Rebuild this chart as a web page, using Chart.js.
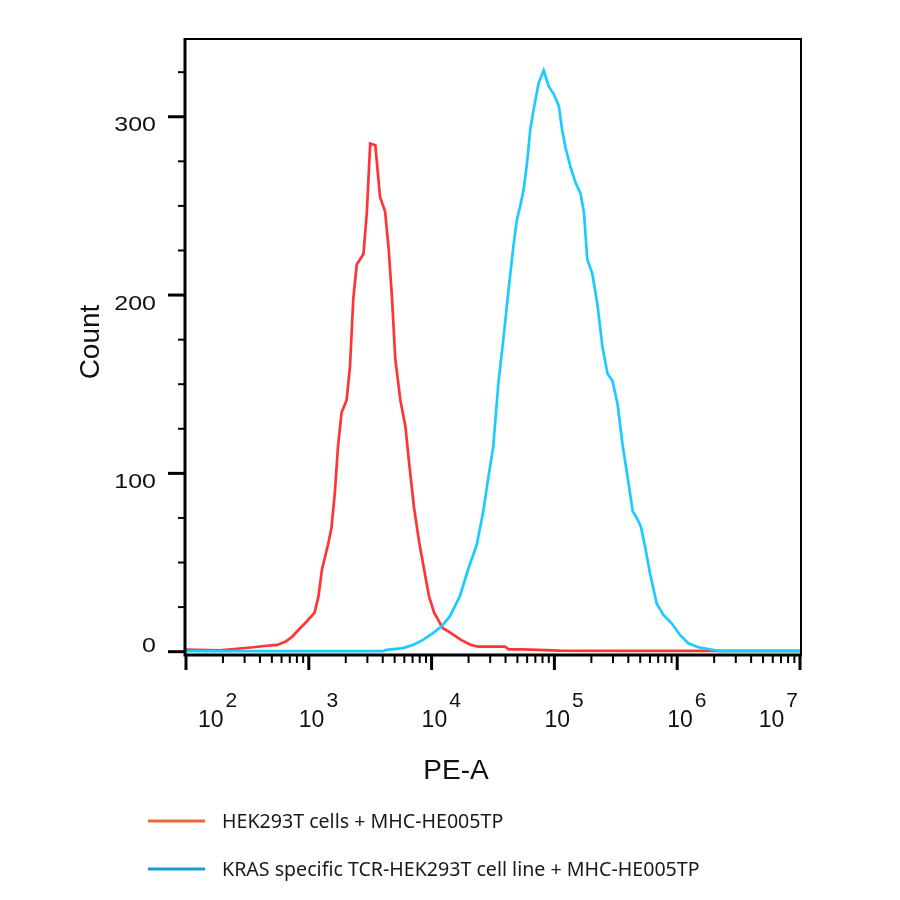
<!DOCTYPE html>
<html>
<head>
<meta charset="utf-8">
<script src="https://cdn.jsdelivr.net/npm/chart.js@4"></script>
<style>
  body { margin: 0; background: #fff; }
</style>
</head>
<body>
<canvas id="histChart" width="900" height="900"></canvas>
<script>
// PE-A channel values and counts for each histogram
const hekPE = [100, 189, 355, 430, 554, 648, 736, 837, 948, 1112, 1199, 1279, 1433, 1527, 1625, 1729, 1847, 2031, 2166, 2303, 2455, 2785, 2967, 3162, 3482, 3802, 4178, 4470, 4764, 5062, 5569, 6128, 6531, 7188, 7894, 8670, 9528, 10470, 12300, 14390, 17350, 20930, 23870, 39630, 42300, 54450, 111200, 342000, 2234000, 10000000];
const hekCount = [1.2, 0.8, 2.5, 3.2, 3.8, 5.7, 8.5, 12.7, 16.5, 21.8, 31, 46, 60, 69, 88, 115, 134, 141, 160, 198, 217, 223, 246, 285, 284, 255, 247, 226, 198, 164, 141, 126, 107, 81, 62, 46.5, 31, 22, 13.3, 10.4, 6.6, 3.8, 2.8, 2.8, 1.3, 1.3, 0.6, 0.5, 0.5, 0.5];

const krasPE = [100, 4018, 4305, 5848, 7063, 8518, 10260, 12070, 14120, 17030, 19900, 23290, 26360, 28970, 31780, 34920, 38370, 42170, 46470, 49430, 52720, 56150, 59840, 63650, 67720, 74500, 81820, 89910, 98870, 108700, 115400, 123200, 135300, 148800, 163400, 174200, 185300, 203600, 224100, 246200, 270400, 297300, 326500, 359100, 394500, 433500, 476600, 507000, 546800, 600900, 680800, 771000, 902300, 1054000, 1231000, 1485000, 1782000, 2234000, 10000000];
const krasCount = [0.3, 0.3, 1, 2, 3.8, 6.6, 10.4, 14.2, 19.9, 31.3, 46.5, 59.8, 78.7, 97.7, 115, 150, 175, 202, 228, 242, 250, 259, 274, 293, 304, 319, 326, 317, 312.6, 306, 293, 282.6, 271.8, 263, 256.8, 246, 220, 212, 194.7, 171, 156, 151.8, 139, 116, 98, 79, 74, 70, 59, 44, 27, 20.6, 15.9, 9.4, 4.7, 2.5, 1.5, 0.3, 0.3];

const xExponents = [2, 3, 4, 5, 6, 7];
const yMajorTicks = [0, 100, 200, 300];
const yMinorStep = 25;
const seriesNames = ['HEK293T cells + MHC-HE005TP', 'KRAS specific TCR-HEK293T cell line + MHC-HE005TP'];
const xTitle = 'PE-A';
const yTitle = 'Count';

const toPoints = (xs, ys) => xs.map((x, i) => ({ x: x, y: ys[i] }));

// Axes, ticks, frame and legend drawn by hand
const axesPlugin = {
    id: 'flowAxes',
    afterDatasetsDraw(chart) {
        const ctx = chart.ctx;
        const area = chart.chartArea;
        const xs = chart.scales.x;
        const ys = chart.scales.y;
        ctx.save();
        ctx.strokeStyle = '#000';
        ctx.fillStyle = '#000';

        // frame
        ctx.lineWidth = 2;
        ctx.beginPath();
        ctx.moveTo(area.left, area.top);
        ctx.lineTo(area.right + 1, area.top);
        ctx.lineTo(area.right + 1, area.bottom);
        ctx.stroke();
        ctx.lineWidth = 3;
        ctx.beginPath();
        ctx.moveTo(area.left - 1, area.top - 1);
        ctx.lineTo(area.left - 1, area.bottom + 1);
        ctx.lineTo(area.right + 2, area.bottom + 1);
        ctx.stroke();

        // x ticks
        xExponents.forEach((e, idx) => {
            const base = Math.pow(10, e);
            const px = xs.getPixelForValue(base);
            ctx.lineWidth = 3;
            ctx.beginPath();
            ctx.moveTo(px, area.bottom);
            ctx.lineTo(px, area.bottom + 16);
            ctx.stroke();
            if (idx < xExponents.length - 1) {
                for (let m = 2; m <= 9; m++) {
                    const mx = xs.getPixelForValue(base * m);
                    ctx.lineWidth = 2;
                    ctx.beginPath();
                    ctx.moveTo(mx, area.bottom);
                    ctx.lineTo(mx, area.bottom + 9);
                    ctx.stroke();
                }
            }
        });

        // x labels: 10 with superscript exponent
        xExponents.forEach(e => {
            const px = xs.getPixelForValue(Math.pow(10, e));
            ctx.font = '23px "Liberation Sans", Arial, sans-serif';
            const w10 = ctx.measureText('10').width;
            ctx.font = '21px "Liberation Sans", Arial, sans-serif';
            const wExp = ctx.measureText(String(e)).width;
            const total = w10 + 2 + wExp;
            let start = Math.max(px - 10, area.left + 12);
            start = Math.min(start, area.right - 2 - total);
            ctx.fillStyle = '#111';
            ctx.textAlign = 'left';
            ctx.textBaseline = 'alphabetic';
            ctx.font = '23px "Liberation Sans", Arial, sans-serif';
            ctx.fillText('10', start, 727);
            ctx.font = '21px "Liberation Sans", Arial, sans-serif';
            ctx.fillText(String(e), start + w10 + 2, 707);
        });

        // y ticks
        for (let v = 0; v <= ys.max; v += yMinorStep) {
            const py = ys.getPixelForValue(v);
            const major = yMajorTicks.includes(v);
            ctx.lineWidth = major ? 3 : 2;
            ctx.beginPath();
            ctx.moveTo(area.left, py);
            ctx.lineTo(area.left - (major ? 18 : 8), py);
            ctx.stroke();
        }
        // y labels, wide face
        ctx.font = '20px "Liberation Sans", Arial, sans-serif';
        ctx.textAlign = 'right';
        ctx.textBaseline = 'alphabetic';
        yMajorTicks.forEach(v => {
            const py = ys.getPixelForValue(v);
            ctx.save();
            ctx.translate(area.left - 30, v === 0 ? py : py + 14.5);
            ctx.scale(1.25, 1);
            ctx.fillText(String(v), 0, 0);
            ctx.restore();
        });

        // axis titles
        ctx.font = '28px "Liberation Sans", Arial, sans-serif';
        ctx.textAlign = 'center';
        ctx.fillText(xTitle, 456, 779);
        ctx.save();
        ctx.translate(99, 342);
        ctx.rotate(-Math.PI / 2);
        ctx.fillText(yTitle, 0, 0);
        ctx.restore();

        // legend
        const legendColors = ['#ec6a30', '#1c9bd6'];
        const legendY = [821, 869];
        ctx.font = '19.6px "Noto Sans", sans-serif';
        ctx.textAlign = 'left';
        ctx.textBaseline = 'middle';
        seriesNames.forEach((name, i) => {
            ctx.strokeStyle = legendColors[i];
            ctx.lineWidth = 3;
            ctx.beginPath();
            ctx.moveTo(148, legendY[i]);
            ctx.lineTo(205, legendY[i]);
            ctx.stroke();
            ctx.fillStyle = '#1a1a1a';
            ctx.fillText(name, 222, legendY[i] + 1);
        });
        ctx.restore();
    }
};

const histChart = new Chart(document.getElementById('histChart'), {
    type: 'line',
    data: {
        datasets: [{
            label: seriesNames[1],
            data: toPoints(krasPE, krasCount),
            borderColor: '#1ccbff',
            borderWidth: 2.7,
            pointRadius: 0,
            tension: 0,
            fill: false
        }, {
            label: seriesNames[0],
            data: toPoints(hekPE, hekCount),
            borderColor: '#ff3535',
            borderWidth: 2.7,
            pointRadius: 0,
            tension: 0,
            fill: false
        }]
    },
    options: {
        responsive: false,
        animation: false,
        layout: {
            padding: { left: 186, right: 100, top: 39, bottom: 246 }
        },
        plugins: {
            legend: { display: false },
            tooltip: { enabled: false }
        },
        scales: {
            x: {
                type: 'logarithmic',
                min: 100,
                max: 10000000,
                display: false
            },
            y: {
                min: -1.3,
                max: 343.6,
                display: false
            }
        }
    },
    plugins: [axesPlugin]
});
</script>
</body>
</html>
